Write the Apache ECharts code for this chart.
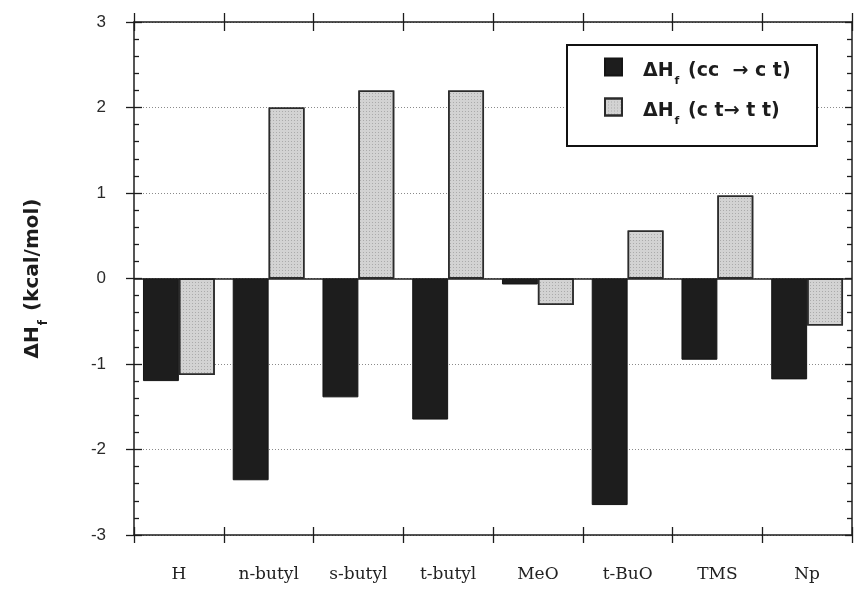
<!DOCTYPE html>
<html>
<head>
<meta charset="utf-8">
<script src="https://cdn.jsdelivr.net/npm/echarts@6/dist/echarts.min.js"></script>
<style>
  html, body { margin: 0; padding: 0; background: #ffffff; }
  #chart { width: 855px; height: 595px; }
</style>
</head>
<body>
<div id="chart"></div>
<script>
// Substituents along the x axis
const categories = ['H', 'n-butyl', 's-butyl', 't-butyl', 'MeO', 't-BuO', 'TMS', 'Np'];
// Enthalpy differences, kcal/mol
const ccToCt = [-1.20, -2.36, -1.39, -1.65, -0.07, -2.65, -0.95, -1.18];
const ctToTt = [-1.13, 2.00, 2.20, 2.20, -0.31, 0.56, 0.97, -0.55];
// Series names and the text after the "ΔH f" part of each legend entry
const seriesNames = ['ΔHf (cc → ct)', 'ΔHf (ct → tt)'];
const legendTails = [' (cc  → c t)', ' (c t→ t t)'];
// Value axis range and step
const yMin = -3;
const yMax = 3;
const yStep = 1;

const ink = '#1c1c1c';
const sansBold = '"DejaVu Sans", "Liberation Sans", sans-serif';

function subscriptRich(size, subSize, subDrop) {
  return {
    b: { fontFamily: sansBold, fontWeight: 'bold', fontSize: size, color: ink, lineHeight: size + 3 },
    s: { fontFamily: sansBold, fontWeight: 'bold', fontSize: subSize, color: ink,
         lineHeight: subSize + 1, padding: [subDrop * 2, 2, 0, 1] }
  };
}

const chart = echarts.init(document.getElementById('chart'));

const axisLineStyle = { color: ink, width: 1.5 };
const tickStyle = { color: ink, width: 1.3 };

function valueAxis(extra) {
  return Object.assign({
    type: 'value', min: yMin, max: yMax, interval: yStep,
    axisLine: { show: false, onZero: false, lineStyle: axisLineStyle },
    axisTick: { show: true, length: 8, lineStyle: tickStyle },
    axisLabel: { show: false },
    splitLine: { show: false }
  }, extra);
}

function categoryAxis(extra) {
  return Object.assign({
    type: 'category', data: categories, boundaryGap: true,
    axisLine: { show: false, onZero: false, lineStyle: axisLineStyle },
    axisTick: { show: true, length: 8, lineStyle: tickStyle },
    axisLabel: { show: false },
    splitLine: { show: false }
  }, extra);
}

const option = {
  animation: false,
  backgroundColor: '#ffffff',
  grid: { left: 134, right: 3, top: 22, bottom: 60, containLabel: false },
  graphic: [{
    type: 'rect', left: 566, top: 44, z: 3,
    shape: { width: 250, height: 101 },
    style: { fill: '#ffffff', stroke: '#111111', lineWidth: 2 }
  }],
  legend: {
    orient: 'vertical', left: 599, top: 50, z: 5,
    itemWidth: 17, itemHeight: 17, itemGap: 8,
    icon: 'rect',
    data: seriesNames,
    formatter: function (name) {
      const i = seriesNames.indexOf(name);
      return '{b|ΔH}{s|f}{b|' + legendTails[i] + '}';
    },
    textStyle: { padding: [8, 0, 0, 16], rich: subscriptRich(19, 11, 10.5) }
  },
  xAxis: [
    categoryAxis({
      position: 'bottom',
      axisLine: { show: true, onZero: false, lineStyle: axisLineStyle },
      axisLabel: { show: true, margin: 31, fontFamily: '"DejaVu Serif", "Liberation Serif", serif',
                   fontSize: 17, color: '#222222' }
    }),
    categoryAxis({ position: 'bottom', axisTick: { show: true, inside: true, length: 8, lineStyle: tickStyle } }),
    categoryAxis({
      position: 'top',
      axisLine: { show: true, onZero: false, lineStyle: axisLineStyle },
      axisTick: { show: true, length: 9, lineStyle: tickStyle }
    }),
    categoryAxis({ position: 'top', axisTick: { show: true, inside: true, length: 9, lineStyle: tickStyle } })
  ],
  yAxis: [
    valueAxis({
      position: 'left',
      axisLine: { show: true, onZero: false, lineStyle: axisLineStyle },
      axisLabel: { show: true, margin: 28, fontFamily: '"Liberation Sans", Arial, sans-serif',
                   fontSize: 17, color: '#2a2a2a' },
      splitLine: { show: true, lineStyle: { color: '#8a8a8a', width: 1, type: [1, 2] } },
      name: '{b|ΔH}{s|f}{b| (kcal/mol)}',
      nameLocation: 'middle', nameRotate: 90, nameGap: 90,
      nameTextStyle: { rich: subscriptRich(20, 12, 11) }
    }),
    valueAxis({
      position: 'left',
      axisTick: { show: true, inside: true, length: 8, lineStyle: tickStyle },
      minorTick: { show: true, splitNumber: 5, length: 5, lineStyle: tickStyle }
    }),
    valueAxis({
      position: 'right',
      axisLine: { show: true, onZero: false, lineStyle: axisLineStyle },
      axisTick: { show: true, inside: true, length: 7, lineStyle: tickStyle },
      minorTick: { show: true, splitNumber: 5, length: 5, lineStyle: tickStyle }
    })
  ],
  series: [
    {
      name: seriesNames[0], type: 'bar', xAxisIndex: 0, yAxisIndex: 0,
      data: ccToCt, barGap: '0%', barCategoryGap: '20%',
      itemStyle: { color: '#1d1d1d', borderColor: '#151515', borderWidth: 1 },
      markLine: {
        silent: true, symbol: 'none', label: { show: false },
        lineStyle: { color: ink, type: 'solid', width: 1.5 },
        data: [{ yAxis: 0 }]
      }
    },
    {
      name: seriesNames[1], type: 'bar', xAxisIndex: 0, yAxisIndex: 0,
      data: ctToTt, barGap: '0%', barCategoryGap: '20%',
      itemStyle: {
        color: '#d3d3d3', borderColor: '#2b2b2b', borderWidth: 1.5,
        decal: { symbol: 'rect', symbolSize: 1, color: 'rgba(70,70,70,0.28)',
                 dashArrayX: [1, 2], dashArrayY: [1, 2], rotation: 0 }
      }
    }
  ]
};

chart.setOption(option);
</script>
</body>
</html>
